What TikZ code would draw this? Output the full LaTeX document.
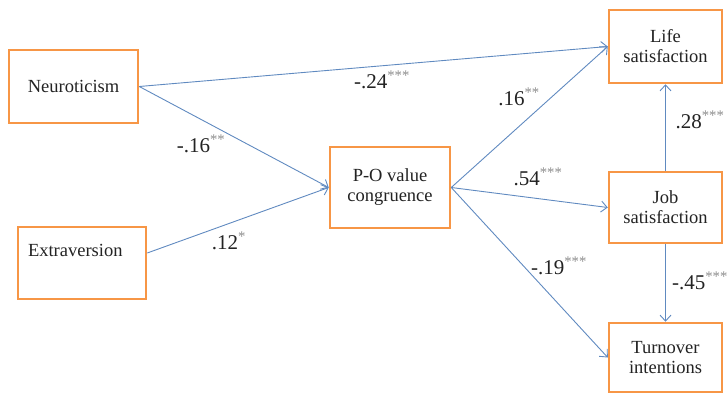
\documentclass[tikz,border=0pt]{standalone}
\usepackage{fontspec}
\setmainfont{Liberation Serif}
\usepackage{tikz}
\definecolor{rahmenorange}{RGB}{247,150,70}
\definecolor{pfeilblau}{RGB}{96,138,192}
\definecolor{schrift}{RGB}{35,35,35}
\usetikzlibrary{arrows.meta}
\newcommand{\stern}[1]{\textsuperscript{\color{black!45}#1}}

\begin{document}
\begin{tikzpicture}[x=1pt, y=-1pt,
		>={Straight Barb[length=6pt,width=11pt]},   %Pfeilspitzen
		kasten/.style={draw=rahmenorange, line width=2.5pt, fill=white, text=schrift, align=center,
			font=\fontsize{18.5}{20}\selectfont, inner sep=0pt},
		pfeil/.style={->, draw=pfeilblau, line width=0.9pt},
		wert/.style={text=schrift, font=\fontsize{21}{24}\selectfont, inner sep=0pt}]
		%Bildbereich
		\useasboundingbox (0,0) rectangle (728,395);
		%Kaesten zeichnen
		\node[kasten, minimum width=129, minimum height=73] (neuro) at (73.5,86.5) {Neuroticism};
		\node[kasten, minimum width=128, minimum height=72, text width=108, align=left] (extra) at (82,263) {Extraversion\\\strut};
		\node[kasten, minimum width=120, minimum height=81] (po) at (390,187.5) {P-O value\\congruence};
		\node[kasten, minimum width=113, minimum height=73] (life) at (665.5,46.5) {Life\\satisfaction};
		\node[kasten, minimum width=113, minimum height=71] (job) at (665.5,207.5) {Job\\satisfaction};
		\node[kasten, minimum width=113, minimum height=69] (turn) at (665.5,357.5) {Turnover\\intentions};
		%Pfade zeichnen
		\draw[pfeil] (neuro.east) -- (life.west);
		\draw[pfeil] (neuro.east) -- (po.west);
		\draw[pfeil] ([yshift=10pt]extra.east) -- (po.west);
		\draw[pfeil] (po.east) -- (life.west);
		\draw[pfeil] (po.east) -- (job.west);
		\draw[pfeil] (po.east) -- (turn.west);
		\draw[pfeil] (job.north) -- (life.south);
		\draw[pfeil] (job.south) -- (turn.north);
		%Koeffizienten
		\node[wert] (w24) at (382,80) {-.24\stern{***}};
		\node[wert] (w16a) at (201,144) {-.16\stern{**}};
		\node[wert] (w12) at (229,241) {.12\stern{*}};
		\node[wert] (w16b) at (519,97) {.16\stern{**}};
		\node[wert] (w54) at (538,177) {.54\stern{***}};
		\node[wert] (w19) at (559,266) {-.19\stern{***}};
		\node[wert] (w28) at (700,120) {.28\stern{***}};
		\node[wert] (w45) at (700,281) {-.45\stern{***}};
	\end{tikzpicture}
\end{document}
